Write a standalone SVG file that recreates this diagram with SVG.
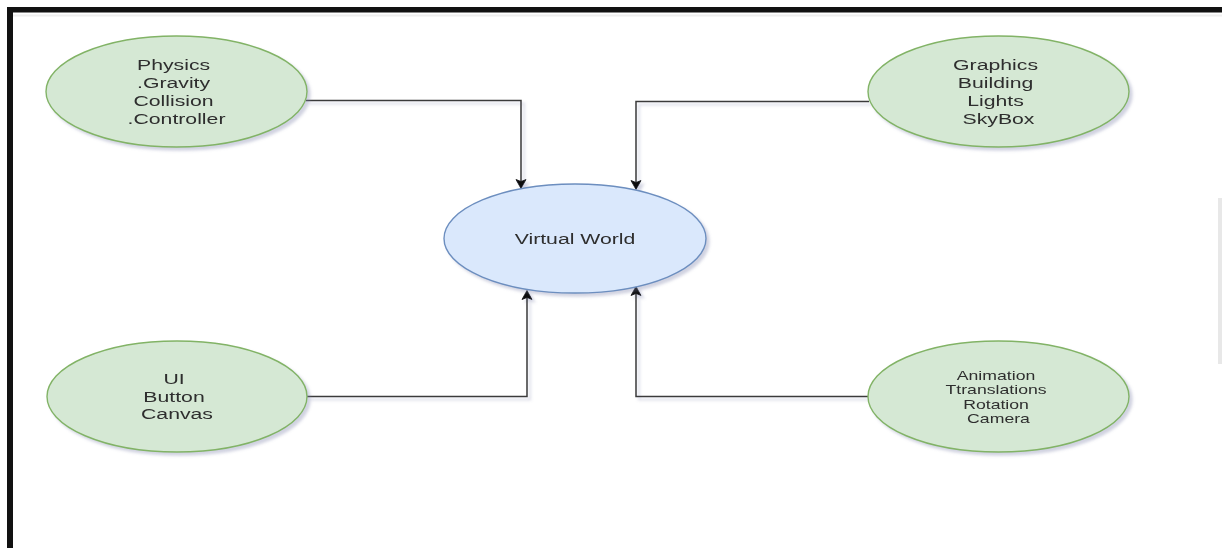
<svg xmlns="http://www.w3.org/2000/svg" width="1222" height="548" viewBox="0 0 1222 548">
  <style>
    .green { fill: #d5e8d4; stroke: #82b366; stroke-width: 1.4; }
    .blue { fill: #dae8fc; stroke: #6c8ebf; stroke-width: 1.4; }
    .lbl { font-family: "Liberation Sans", Arial, sans-serif; font-size: 15.5px; fill: #2e2e2e; text-anchor: middle; }
    .small { font-size: 13px; }
    .edge { fill: none; stroke: #3a3a3a; stroke-width: 1.5; }
    .head { fill: #111111; stroke: #111111; stroke-width: 0.8; stroke-linejoin: miter; }
  </style>
  <defs>
    <filter id="shadow" filterUnits="userSpaceOnUse" x="0" y="0" width="1222" height="548">
      <feGaussianBlur in="SourceAlpha" stdDeviation="1.6" result="blur"/>
      <feOffset in="blur" dx="3" dy="3" result="off"/>
      <feFlood flood-color="#7a7fa8" flood-opacity="0.35"/>
      <feComposite in2="off" operator="in" result="sh"/>
      <feMerge>
        <feMergeNode in="sh"/>
        <feMergeNode in="SourceGraphic"/>
      </feMerge>
    </filter>
    <!-- classic notched arrowhead, tip at origin pointing down -->
    <path id="arrow-down" d="M0,0 L-5,-9 L0,-7 L5,-9 Z"/>
  </defs>

  <!-- page background and frame -->
  <rect x="0" y="0" width="1222" height="548" fill="#ffffff"/>
  <rect x="7" y="7" width="1215" height="5.5" fill="#111111"/>
  <rect x="7" y="7" width="6" height="541" fill="#111111"/>
  <rect x="13" y="14.5" width="1209" height="2" fill="#eeeeee"/>
  <rect x="1218" y="198" width="4" height="166" fill="#e8e8e8"/>

  <!-- connectors -->
  <g id="connectors" filter="url(#shadow)">
    <path class="edge" d="M306,100.5 H521 V182"/>
    <use href="#arrow-down" class="head" transform="translate(521 188.5)"/>
    <path class="edge" d="M869,101.5 H636 V183"/>
    <use href="#arrow-down" class="head" transform="translate(636 189.5)"/>
    <path class="edge" d="M307,396.5 H527 V297"/>
    <use href="#arrow-down" class="head" transform="translate(527 290.5) rotate(180)"/>
    <path class="edge" d="M868,396.5 H636 V293"/>
    <use href="#arrow-down" class="head" transform="translate(636 286.5) rotate(180)"/>
  </g>

  <g id="physics" filter="url(#shadow)">
    <ellipse class="green" cx="176.5" cy="91.5" rx="130.5" ry="55.5"/>
    <text class="lbl" transform="translate(176.5 0) scale(1.37 1)">
      <tspan x="0" y="70.5">Physics</tspan>
      <tspan x="0" y="88.2">.Gravity</tspan>
      <tspan x="0" y="105.9">Collision</tspan>
      <tspan x="0" y="123.6">.Controller</tspan>
    </text>
  </g>

  <g id="graphics" filter="url(#shadow)">
    <ellipse class="green" cx="998.5" cy="91.5" rx="130.5" ry="55.5"/>
    <text class="lbl" transform="translate(998.5 0) scale(1.37 1)">
      <tspan x="0" y="70.5">Graphics</tspan>
      <tspan x="0" y="88.2">Building</tspan>
      <tspan x="0" y="105.9">Lights</tspan>
      <tspan x="0" y="123.6">SkyBox</tspan>
    </text>
  </g>

  <g id="virtual-world" filter="url(#shadow)">
    <ellipse class="blue" cx="575" cy="238.5" rx="131" ry="54.5"/>
    <text class="lbl" transform="translate(575 0) scale(1.37 1)" x="0" y="244">Virtual World</text>
  </g>

  <g id="ui" filter="url(#shadow)">
    <ellipse class="green" cx="177" cy="396.5" rx="130" ry="55.5"/>
    <text class="lbl" transform="translate(177 0) scale(1.37 1)">
      <tspan x="0" y="384">UI</tspan>
      <tspan x="0" y="401.6">Button</tspan>
      <tspan x="0" y="419.2">Canvas</tspan>
    </text>
  </g>

  <g id="animation" filter="url(#shadow)">
    <ellipse class="green" cx="998.5" cy="396.5" rx="130.5" ry="55.5"/>
    <text class="lbl small" transform="translate(998.5 0) scale(1.36 1)">
      <tspan x="0" y="380">Animation</tspan>
      <tspan x="0" y="394.5">Ttranslations</tspan>
      <tspan x="0" y="409">Rotation</tspan>
      <tspan x="0" y="423.5">Camera</tspan>
    </text>
  </g>
</svg>
